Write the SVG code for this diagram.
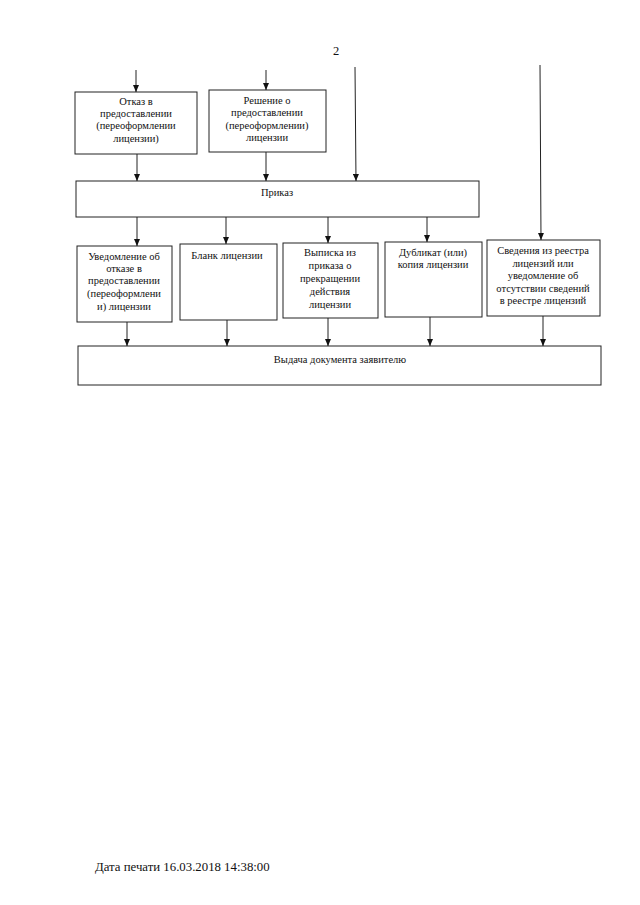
<svg xmlns="http://www.w3.org/2000/svg" width="640" height="905" viewBox="0 0 640 905">
<defs>
<marker id="ah" viewBox="0 0 7 6" refX="7" refY="3" markerWidth="7" markerHeight="6" markerUnits="userSpaceOnUse" orient="auto">
<path d="M0,0 L7,3 L0,6 Z" fill="#111"/>
</marker>
</defs>
<style>
.box{fill:#fff;stroke:#222;stroke-width:1}
.t{font-family:"Liberation Serif","Times New Roman",serif;font-size:10.5px;fill:#111;text-anchor:middle}
.c{fill:none;stroke:#222;stroke-width:1}
.ca{fill:none;stroke:#222;stroke-width:1;marker-end:url(#ah)}
</style>
<rect width="640" height="905" fill="#fff"/>
<text x="336" y="55" style="font-family:'Liberation Serif',serif;font-size:12.5px;fill:#111;text-anchor:middle">2</text>
<g id="n1">
<rect class="box" x="75" y="92" width="122" height="62"/>
<text class="t" x="136" y="105">Отказ в</text>
<text class="t" x="136" y="117">предоставлении</text>
<text class="t" x="136" y="129">(переоформлении</text>
<text class="t" x="136" y="142">лицензии)</text>
</g>
<g id="n2">
<rect class="box" x="209" y="90" width="117" height="62"/>
<text class="t" x="267" y="104">Решение о</text>
<text class="t" x="267" y="116">предоставлении</text>
<text class="t" x="267" y="129">(переоформлении)</text>
<text class="t" x="267" y="141">лицензии</text>
</g>
<g id="n3">
<rect class="box" x="76" y="181" width="403" height="36"/>
<text class="t" x="277" y="196">Приказ</text>
</g>
<g id="n4">
<rect class="box" x="77" y="246" width="95" height="76"/>
<text class="t" x="124" y="260">Уведомление об</text>
<text class="t" x="124" y="272">отказе в</text>
<text class="t" x="124" y="284">предоставлении</text>
<text class="t" x="124" y="297">(переоформлени</text>
<text class="t" x="124" y="310">и) лицензии</text>
</g>
<g id="n5">
<rect class="box" x="180" y="244" width="97" height="76"/>
<text class="t" x="227" y="259">Бланк лицензии</text>
</g>
<g id="n6">
<rect class="box" x="283" y="243" width="95" height="75"/>
<text class="t" x="330" y="256">Выписка из</text>
<text class="t" x="330" y="269">приказа о</text>
<text class="t" x="330" y="282">прекращении</text>
<text class="t" x="330" y="295">действия</text>
<text class="t" x="330" y="308">лицензии</text>
</g>
<g id="n7">
<rect class="box" x="385" y="242" width="97" height="75"/>
<text class="t" x="433" y="256">Дубликат (или)</text>
<text class="t" x="433" y="268">копия лицензии</text>
</g>
<g id="n8">
<rect class="box" x="487" y="240" width="113" height="76"/>
<text class="t" x="543" y="254">Сведения из реестра</text>
<text class="t" x="543" y="267">лицензий или</text>
<text class="t" x="543" y="279">уведомление об</text>
<text class="t" x="543" y="292">отсутствии сведений</text>
<text class="t" x="543" y="304">в реестре лицензий</text>
</g>
<g id="n9">
<rect class="box" x="78" y="346" width="523" height="39"/>
<text class="t" x="340" y="363">Выдача документа заявителю</text>
</g>
<g id="connectors">
<line class="ca" x1="136" y1="70" x2="136" y2="92"/>
<line class="ca" x1="266" y1="70" x2="266" y2="90"/>
<line class="ca" x1="137" y1="154" x2="137" y2="181"/>
<line class="ca" x1="266" y1="152" x2="266" y2="181"/>
<line class="ca" x1="355" y1="67" x2="356" y2="181"/>
<line class="ca" x1="540" y1="65" x2="541" y2="240"/>
<line class="ca" x1="137" y1="217" x2="137" y2="246"/>
<line class="ca" x1="226" y1="217" x2="226" y2="244"/>
<line class="ca" x1="328" y1="217" x2="328" y2="243"/>
<line class="ca" x1="427" y1="217" x2="427" y2="242"/>
<line class="ca" x1="127" y1="322" x2="127" y2="346"/>
<line class="ca" x1="227" y1="320" x2="227" y2="346"/>
<line class="ca" x1="328" y1="318" x2="328" y2="346"/>
<line class="ca" x1="430" y1="317" x2="430" y2="346"/>
<line class="ca" x1="543" y1="316" x2="543" y2="346"/>
</g>
<text x="95" y="871" style="font-family:'Liberation Serif',serif;font-size:12.8px;fill:#111">Дата печати 16.03.2018 14:38:00</text>
</svg>
